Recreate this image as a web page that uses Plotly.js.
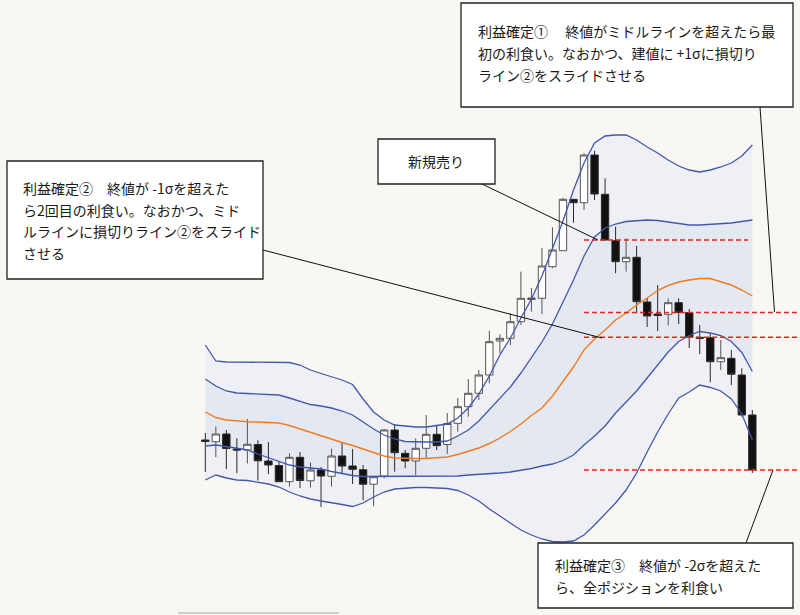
<!DOCTYPE html>
<html><head><meta charset="utf-8">
<script src="https://cdn.plot.ly/plotly-3.0.1.min.js"></script>
<style>html,body{margin:0;padding:0;background:#f9f7f4;} #chart{width:800px;height:615px;}</style>
</head><body><div id="chart"></div>
<script>
// Candles (price units, arbitrary)
const open  = [160,158.3,166,151,150,155.5,139,134.5,118.3,142.7,119.2,130,123.7,144,134,130.3,115.8,124,170,146.7,139,151.7,165.7,155.5,176.7,193.3,206.7,225,259,261.7,278.3,300.5,301.7,333.3,349.3,400.7,397.3,445,405.7,359.3,338.3,342.7,298,286,285.7,297.3,287.3,262.7,262.3,238.3,241.7,225,185];
const high  = [167,173.5,170,161.7,181,159.7,158,138.3,146.7,148,137.5,133,151.3,158,151,135,124,171,176,150,161.7,185,175,187,202,221,230,269.3,265.7,286.7,328.3,312,352,372.7,402,401,446.7,449.3,421.7,373.3,361.7,354,302,315,301.7,301.7,291,275,266.7,260,250,231.7,190];
const low   = [128,143,131,126.7,136.5,119.5,126,118,113.5,112,112.5,93,113.3,127,116,99.7,93.7,121.7,128.3,131.7,125,141.7,150,146,168.3,183.3,200,216.7,246.7,255,275,288.3,286,331.7,349,377.3,390,400,359.5,326.7,328.3,286.7,273,269,274.7,276,252,246,217.7,230,215,183.3,127];
const close = [158.5,166,151.5,150,155.7,139.2,135,118.3,142.7,119.5,130,124,144,134,130.7,115.8,123.3,170,147.3,139,151.7,165.7,154.3,176.5,193.3,206.7,225,258.3,261.7,278.3,301.7,302,334,350,400.7,397.3,445,406,360,338.3,342.7,298.3,284,284.5,297.3,287.5,262.7,261.7,238.3,242.3,225.8,185,130];

// Bollinger bands
const upper2 = [255,239,238,238,238,238,238,238,237.5,235,230,226.5,223,220,215.5,201,188,180,175,174,173,173,174.5,176,182,192,206,224,245,262,282,301,324,351,379,410,437,457,464,465,465,460,453,447,440,434,430,428,430,433,437,444,455];
const upper1 = [221,214,209,207,206.5,206,205.5,205,202,199,195.5,194,192,189,185,178,171,165,161,158.5,158,158,158,159,164,170,179,190,202,213,227,242,258,276,298,320,344,363,372,376,378.5,379.5,380,379.5,378,376.5,375,375,375.5,376,377,378.5,380];
const middle = [188,182.5,180,179,178.3,178,177.5,177,174.5,171,167.5,164,160.5,157.5,154.5,151,147.5,144,142,141.5,141.5,141.5,142,143,145.5,148.5,152,156.5,162,168.5,176,184.5,192,204,219,233,250,261,270,280,287,295,302,309.5,314.5,318,320,321.5,321.5,318.5,315,310,304];
const lower1 = [154,155,153.5,152,150,146,142.5,138.5,135,133,132,131,128.5,126.5,124.5,123.5,123.5,124,124,124,123.5,123.5,123.5,123.5,124,125,125.5,126,127,128,129.5,131.5,134,136,139.5,145,155,164,174,187,198,209,222,235,248,258.5,264.5,268.5,267,264.5,258.5,247.5,228.5];
const lower2 = [120,125,122,120,119.5,118,116,113,108,104,101,99,97.5,95.5,93.5,97,103,108,111,112,112.5,112.5,112,111.5,109.5,105,99,91,84,77,70,65,61,58.5,58,59,65,75,86,97,110,127,148,168,186,202,208,215,212.5,209,201,186,160];

// candles whose close marks the entry / exits (red dashed levels)
const levelCandles = [38, 45, 46, 52];

// Texts
const box1Lines = ["利益確定①　 終値がミドルラインを超えたら最", "初の利食い。なおかつ、建値に +1σに損切り", "ライン②をスライドさせる"];
const box2Lines = ["利益確定②　終値が -1σを超えた", "ら2回目の利食い。なおかつ、ミド", "ルラインに損切りライン②をスライド", "させる"];
const box3Lines = ["利益確定③　終値が -2σを超えた", "ら、全ポジションを利食い"];
const entryText = "新規売り";

const idx = open.map((_, i) => i);
const W = 800, H = 615;
const px = x => x / W, py = y => 1 - y / H;

const BLUE = '#4458aa', ORANGE = '#f07b22', RED = '#e8231c';
const FONT = 'Noto Sans CJK JP, sans-serif';

function bandPath(top, bot) {
  const fwd = idx.map(i => i + ',' + top[i]).join(' L');
  const back = idx.slice().reverse().map(i => i + ',' + bot[i]).join(' L');
  return 'M' + fwd + ' L' + back + ' Z';
}

const shapes = [
  {type:'path', xref:'x', yref:'y', path: bandPath(upper2, lower2), fillcolor:'#eef0f5', line:{width:0}, layer:'below'},
  {type:'path', xref:'x', yref:'y', path: bandPath(upper1, lower1), fillcolor:'#e4e8f1', line:{width:0}, layer:'below'}
];

// red dashed levels
levelCandles.forEach((c, k) => {
  shapes.push({type:'line', xref:'x', yref:'y', x0:36, x1:(k === 0 ? 51.6 : 56.6), y0:close[c], y1:close[c],
    line:{color:RED, width:1.5, dash:'5px,3px'}});
});

// connector lines (pixel layout)
const conn = [[482,184,598,240],[263,250,602,338],[760,107,774.5,312],[746,543,773,470]];
conn.forEach(c => shapes.push({type:'line', xref:'paper', yref:'paper', x0:px(c[0]), y0:py(c[1]), x1:px(c[2]), y1:py(c[3]), line:{color:'#111', width:1}}));

// boxes
const boxes = [[461,3,793,107],[7,161,263,279],[538,543,793,608],[378,139,495,184]];
boxes.forEach(b => shapes.push({type:'rect', xref:'paper', yref:'paper', x0:px(b[0]), y0:py(b[1]), x1:px(b[2]), y1:py(b[3]), fillcolor:'#ffffff', line:{color:'#222', width:1.3}}));

// bottom grey scrollbar remnant
shapes.push({type:'line', xref:'paper', yref:'paper', x0:px(178), x1:px(339), y0:py(613), y1:py(613), line:{color:'#cfcfcf', width:2}});

const annotations = [];
function addLines(lines, x, y0, dy) {
  lines.forEach((t, i) => annotations.push({xref:'paper', yref:'paper', x:px(x), y:py(y0 + i*dy), xanchor:'left', yanchor:'middle', text:t, showarrow:false, font:{family:FONT, size:14, color:'#1a1a1a'}}));
}
addLines(box1Lines, 476, 31, 22);
addLines(box2Lines, 21, 188, 21.7);
addLines(box3Lines, 553, 565, 21.7);
annotations.push({xref:'paper', yref:'paper', x:px(436), y:py(161), xanchor:'center', yanchor:'middle', text:entryText, showarrow:false, font:{family:FONT, size:14, color:'#1a1a1a'}});

const lineTrace = (y, color, w) => ({type:'scatter', mode:'lines', x:idx, y:y, line:{color:color, width:w}, hoverinfo:'skip', showlegend:false});

const data = [
  {type:'candlestick', x:idx, open:open, high:high, low:low, close:close,
   increasing:{line:{color:'#555555', width:1}, fillcolor:'#ffffff'},
   decreasing:{line:{color:'#2a2a2a', width:1}, fillcolor:'#111111'},
   whiskerwidth:0, hoverinfo:'skip', showlegend:false},
  lineTrace(upper2, BLUE, 1.3),
  lineTrace(upper1, BLUE, 1.3),
  lineTrace(middle, ORANGE, 1.4),
  lineTrace(lower1, BLUE, 1.3),
  lineTrace(lower2, BLUE, 1.3)
];

const layout = {
  width:W, height:H, margin:{l:0,r:0,t:0,b:0,pad:0},
  paper_bgcolor:'#f9f7f4', plot_bgcolor:'#f9f7f4', showlegend:false,
  boxgap:0.3, boxgroupgap:0,
  xaxis:{range:[-19.515, 56.53], visible:false, fixedrange:true, rangeslider:{visible:false}},
  yaxis:{range:[-15, 600], visible:false, fixedrange:true},
  shapes:shapes, annotations:annotations
};

Plotly.newPlot('chart', data, layout, {staticPlot:true, displayModeBar:false});
</script></body></html>
